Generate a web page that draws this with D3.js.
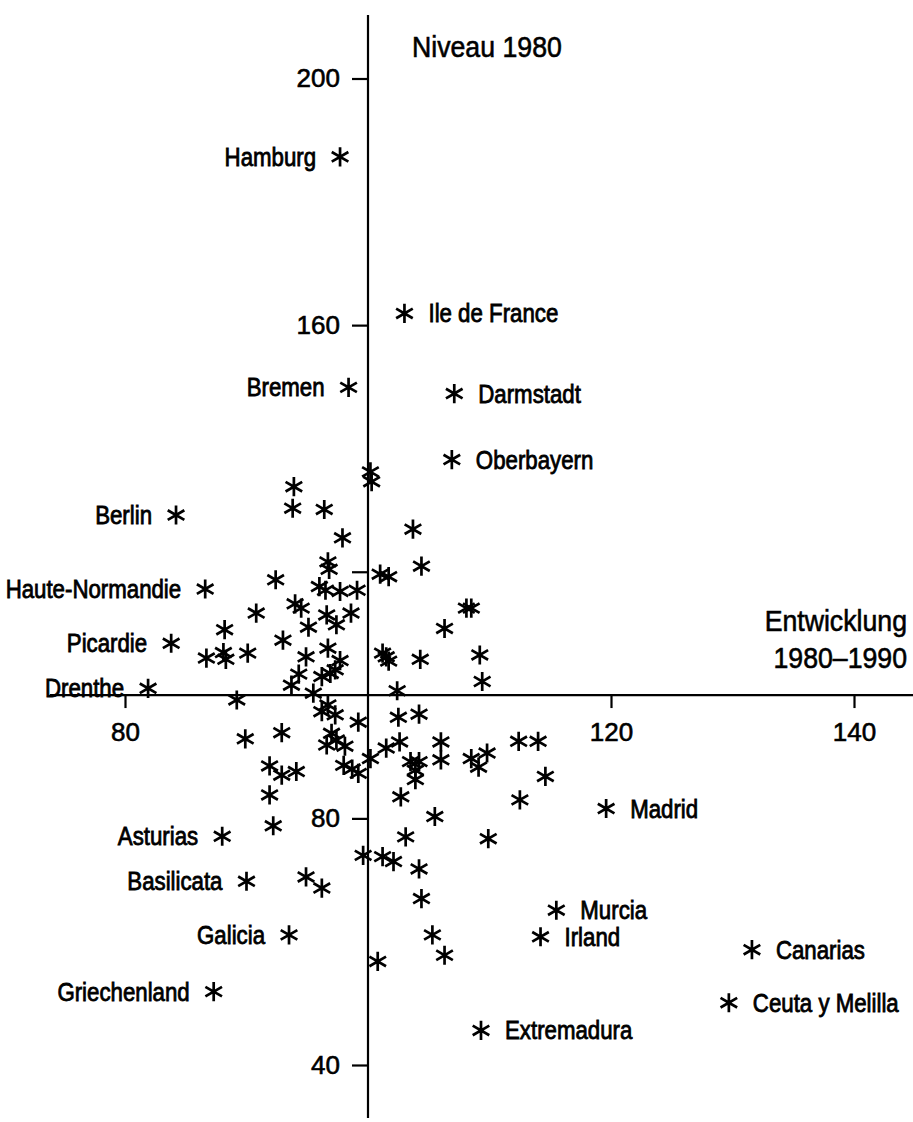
<!DOCTYPE html>
<html>
<head>
<meta charset="utf-8">
<script src="https://cdn.jsdelivr.net/npm/d3@7"></script>
<style>
  body { margin: 0; background: #fff; }
  text { font-family: "Liberation Sans", Arial, sans-serif; fill: #000; }
</style>
</head>
<body>
<main></main>
<script>
var w = 913;
var h = 1122;

// labelled regions: Entwicklung 1980-1990 (x) and Niveau 1980 (y)
var names = ["Hamburg", "Ile de France", "Bremen", "Darmstadt", "Oberbayern",
  "Berlin", "Haute-Normandie", "Picardie", "Drenthe", "Madrid", "Asturias",
  "Basilicata", "Murcia", "Galicia", "Irland", "Canarias", "Griechenland",
  "Ceuta y Melilla", "Extremadura"];
var growth = [97.7, 103.0, 98.4, 107.1, 106.9, 84.2, 86.6, 83.8, 81.9, 119.6,
  88.0, 90.0, 115.5, 93.5, 114.2, 131.6, 87.3, 129.7, 109.3];
var level = [187.3, 161.9, 149.9, 148.9, 138.2, 129.2, 117.2, 108.4, 101.1, 81.6,
  77.1, 69.8, 65.1, 61.1, 60.8, 58.7, 51.9, 50.1, 45.6];

// all the other regions, no label
var otherGrowth = [100.2, 100.3, 93.9, 93.8, 96.4, 103.7, 97.9, 104.4, 96.7, 96.8,
  101.0, 101.7, 92.4, 96.0, 96.5, 97.7, 99.1, 108.1, 108.5, 90.8,
  94.0, 94.5, 96.6, 98.6, 97.4, 95.1, 106.3, 88.2, 93.0, 96.7,
  88.1, 88.3, 86.7, 90.1, 94.9, 97.7, 101.2, 101.5, 101.7, 104.3,
  109.2, 109.4, 94.3, 96.2, 96.9, 97.3, 93.7, 95.5, 102.4, 89.2,
  96.2, 96.7, 97.3, 99.2, 102.5, 104.2, 89.9, 92.9, 97.0, 96.6,
  97.4, 98.1, 101.5, 102.6, 106.0, 106.0, 112.4, 114.0, 100.2, 103.5,
  104.2, 103.9, 103.9, 108.5, 109.8, 109.1, 98.0, 98.7, 99.2, 91.9,
  92.9, 94.1, 114.6, 91.9, 102.7, 112.5, 105.5, 92.2, 103.1, 109.9,
  99.6, 101.2, 102.1, 104.2, 94.9, 96.2, 104.4, 105.3, 106.3, 100.8];
var otherLevel = [136.2, 134.6, 133.8, 130.3, 130.1, 126.9, 125.5, 120.9, 121.6, 120.4,
  119.6, 119.2, 118.7, 117.6, 117.0, 116.8, 117.0, 114.1, 114.1, 113.3,
  114.8, 114.1, 113.0, 113.3, 111.4, 111.0, 110.8, 110.6, 108.9, 107.6,
  106.9, 105.8, 106.0, 106.8, 106.2, 105.6, 106.8, 106.2, 105.5, 105.8,
  106.5, 102.2, 103.4, 103.0, 103.5, 104.1, 101.6, 100.3, 100.7, 99.2,
  97.3, 98.4, 96.8, 95.6, 96.4, 96.9, 92.9, 93.9, 93.8, 91.9,
  92.7, 91.7, 91.4, 92.4, 92.4, 89.5, 92.5, 92.5, 89.7, 89.2,
  89.2, 87.8, 86.3, 89.7, 90.6, 88.3, 88.6, 88.0, 87.3, 88.5,
  87.0, 87.6, 86.8, 83.8, 83.5, 83.0, 80.3, 78.8, 77.0, 76.7,
  74.0, 73.8, 73.0, 71.8, 70.5, 68.7, 67.0, 61.1, 57.8, 56.8];

var xTicks = [80, 120, 140];
var yTicks = [40, 80, 120, 160, 200];

var labelled = names.map(function (n, i) {
  return { name: n, x: growth[i], y: level[i] };
});
var others = otherGrowth.map(function (g, i) {
  return { x: g, y: otherLevel[i] };
});

var svg = d3.select("main").append("svg")
  .attr("width", w)
  .attr("height", h);

// SCALES
var xScale = d3.scaleLinear().domain([80, 140]).range([125, 854]);
var yScale = d3.scaleLinear().domain([40, 200]).range([1065, 78.5]);

var squeeze = 0.89; // the plotter font is narrower than Liberation Sans

// AXES (lines drawn by hand so they cross at 100/100 and run to the edges)
svg.append("line")
  .attr("x1", 50).attr("x2", w)
  .attr("y1", yScale(100)).attr("y2", yScale(100))
  .attr("stroke", "#000").attr("stroke-width", 2.2);
svg.append("line")
  .attr("x1", xScale(100)).attr("x2", xScale(100))
  .attr("y1", 15).attr("y2", h - 4)
  .attr("stroke", "#000").attr("stroke-width", 2.2);

var xAxis = d3.axisBottom(xScale)
  .tickValues(xTicks)
  .tickSize(13)
  .tickPadding(14);
var yAxis = d3.axisLeft(yScale)
  .tickValues(yTicks)
  .tickSize(16)
  .tickPadding(12)
  .tickFormat(function (d) { return d === 120 ? "" : d; });

var gx = svg.append("g")
  .attr("transform", "translate(0," + yScale(100) + ")")
  .call(xAxis);
var gy = svg.append("g")
  .attr("transform", "translate(" + xScale(100) + ",0)")
  .call(yAxis);

[gx, gy].forEach(function (g) {
  g.select(".domain").remove();
  g.selectAll(".tick line").attr("stroke", "#000").attr("stroke-width", 2.2);
  g.selectAll(".tick text")
    .attr("font-size", 26)
    .attr("font-family", "Liberation Sans, Arial, sans-serif")
    .attr("fill", "#000")
    .attr("stroke", "#000")
    .attr("stroke-width", 0.6);
});
gx.selectAll(".tick text").attr("dy", "0.71em");

// AXIS TITLES
function title(x, y, str, anchor) {
  svg.append("text")
    .attr("transform", "translate(" + x + "," + y + ") scale(" + squeeze + ",1)")
    .attr("text-anchor", anchor)
    .attr("font-size", 30)
    .attr("stroke", "#000")
    .attr("stroke-width", 0.6)
    .text(str);
}
title(412, 57, "Niveau 1980", "start");
title(907, 631, "Entwicklung", "end");
title(907, 668, "1980\u20131990", "end");

// MARKERS
var star = d3.symbol().type(d3.symbolAsterisk).size(260);

svg.selectAll("path.other")
  .data(others)
  .enter()
  .append("path")
  .attr("class", "other")
  .attr("d", star)
  .attr("transform", function (d) { return "translate(" + xScale(d.x) + "," + yScale(d.y) + ")"; })
  .attr("fill", "none")
  .attr("stroke", "#000")
  .attr("stroke-width", 2.7);

var lab = svg.selectAll("g.region")
  .data(labelled)
  .enter()
  .append("g")
  .attr("class", "region")
  .attr("transform", function (d) { return "translate(" + xScale(d.x) + "," + yScale(d.y) + ")"; });

lab.append("path")
  .attr("d", star)
  .attr("fill", "none")
  .attr("stroke", "#000")
  .attr("stroke-width", 2.7);

// labels sit left of the marker for regions below 100, right otherwise
lab.append("text")
  .attr("transform", function (d) {
    var dx = d.x < 100 ? -24 : 24;
    return "translate(" + dx + ",9) scale(" + squeeze + ",1)";
  })
  .attr("text-anchor", function (d) { return d.x < 100 ? "end" : "start"; })
  .attr("font-size", 25)
  .attr("stroke", "#000")
  .attr("stroke-width", 0.8)
  .text(function (d) { return d.name; });
</script>
</body>
</html>
